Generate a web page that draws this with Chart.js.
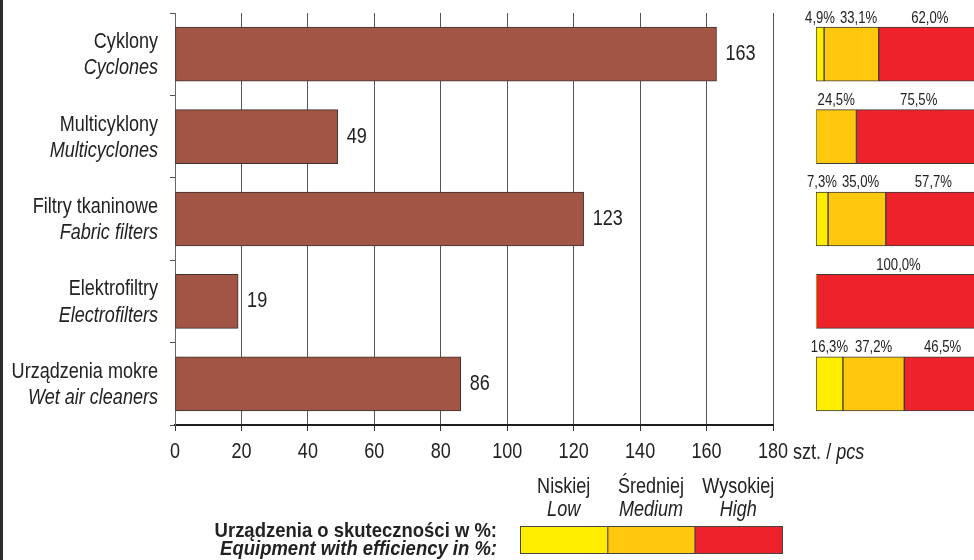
<!DOCTYPE html>
<html>
<head>
<meta charset="utf-8">
<script src="https://cdn.jsdelivr.net/npm/chart.js@4.4.1/dist/chart.umd.min.js"></script>
<style>
html, body { margin: 0; padding: 0; background: #fff; overflow: hidden; }
#wrap { position: relative; width: 974px; height: 560px; overflow: hidden; }
#share, #main { position: absolute; left: 0; top: 0; }
#edge { position: absolute; left: 0; top: 0; width: 3px; height: 560px; background: #2b2b2b; }
</style>
</head>
<body>
<div id="wrap">
  <canvas id="share" width="1000" height="560"></canvas>
  <canvas id="main" width="974" height="560"></canvas>
  <div id="edge"></div>
</div>
<script>
// Data
const categories = ["Cyklony", "Multicyklony", "Filtry tkaninowe", "Elektrofiltry", "Urządzenia mokre"];
const categoriesEn = ["Cyclones", "Multicyclones", "Fabric filters", "Electrofilters", "Wet air cleaners"];
const counts = [163, 49, 123, 19, 86];
const xTicks = [0, 20, 40, 60, 80, 100, 120, 140, 160, 180];

// share of equipment by efficiency, %
const lowShare = [4.9, 0, 7.3, 0, 16.3];
const mediumShare = [33.1, 24.5, 35.0, 0, 37.2];
const highShare = [62.0, 75.5, 57.7, 100.0, 46.5];
const levelNames = ["Niskiej", "Średniej", "Wysokiej"];
const levelNamesEn = ["Low", "Medium", "High"];
const levelColors = ["#ffed00", "#fec80e", "#ee222b"];

// no narrow font installed, so squeeze Liberation Sans by hand
const SANS = "'Liberation Sans', Arial, sans-serif";
const SQUEEZE = 0.82;
const TEXT = "#222";

function say(ctx, s, x, y, font, align, sx) {
  ctx.save();
  ctx.font = font;
  ctx.textAlign = align;
  ctx.textBaseline = "middle";
  ctx.translate(x, y);
  ctx.scale(sx || SQUEEZE, 1);
  ctx.fillText(s, 0, 0);
  ctx.restore();
}

function width(ctx, s, font, sx) {
  ctx.save();
  ctx.font = font;
  const w = ctx.measureText(s).width * (sx || SQUEEZE);
  ctx.restore();
  return w;
}

// labels, units and legend for the count chart
const countLabels = {
  id: "countLabels",
  afterDraw(chart) {
    const ctx = chart.ctx;
    const y = chart.scales.y;
    const x = chart.scales.x;
    ctx.save();
    ctx.fillStyle = TEXT;
    const reg = "22px " + SANS, ita = "italic 22px " + SANS;

    categories.forEach((c, i) => {
      const py = y.getPixelForValue(i);
      say(ctx, c, 158, py - 12, reg, "right");
      say(ctx, categoriesEn[i], 158, py + 14, ita, "right");
    });

    chart.getDatasetMeta(0).data.forEach((bar, i) => {
      say(ctx, String(counts[i]), bar.x + 9, bar.y, reg, "left");
    });

    xTicks.forEach(v => {
      say(ctx, String(v), x.getPixelForValue(v), 452, reg, "center");
    });

    // unit after the last tick
    const last = xTicks[xTicks.length - 1];
    let ux = x.getPixelForValue(last) + width(ctx, String(last), reg) / 2 + 5;
    say(ctx, "szt. / ", ux, 453, reg, "left");
    ux += width(ctx, "szt. / ", reg);
    say(ctx, "pcs", ux, 453, ita, "left");

    // legend
    say(ctx, "Urządzenia o skuteczności w %:", 497, 531, "bold 21px " + SANS, "right", 0.88);
    say(ctx, "Equipment with efficiency in %:", 497, 549, "italic bold 21px " + SANS, "right", 0.88);

    const bx = 520, bw = 262 / 3, by = 526, bh = 27;
    levelColors.forEach((col, i) => {
      ctx.fillStyle = col;
      ctx.fillRect(bx + i * bw, by, bw, bh);
      ctx.strokeStyle = "#444";
      ctx.lineWidth = 1;
      ctx.strokeRect(bx + i * bw + 0.5, by + 0.5, bw, bh);
      ctx.fillStyle = TEXT;
      say(ctx, levelNames[i], bx + (i + 0.5) * bw, 487, reg, "center");
      say(ctx, levelNamesEn[i], bx + (i + 0.5) * bw, 510, ita, "center");
    });
    ctx.restore();
  }
};

new Chart(document.getElementById("main"), {
  type: "bar",
  data: {
    labels: categories,
    datasets: [{
      data: counts,
      backgroundColor: "#a25544",
      borderColor: "#3d3330",
      borderWidth: 1,
      borderSkipped: false,
      barThickness: 54
    }]
  },
  options: {
    indexAxis: "y",
    responsive: false,
    animation: false,
    layout: { padding: { top: 13, right: 201, left: 0, bottom: 0 } },
    plugins: { legend: { display: false }, tooltip: { enabled: false } },
    scales: {
      x: {
        min: xTicks[0],
        max: xTicks[xTicks.length - 1],
        afterBuildTicks: s => { s.ticks = xTicks.map(v => ({ value: v })); },
        grid: { color: "#555", lineWidth: 1, tickLength: 6, tickColor: "#333" },
        border: { color: "#1e1e1e", width: 2 },
        ticks: { display: false },
        afterFit: s => { s.height = 135; }
      },
      y: {
        grid: { drawOnChartArea: false, offset: true, tickLength: 5, color: "#555" },
        border: { color: "#666", width: 1 },
        ticks: { display: false },
        afterFit: s => { s.width = 175; }
      }
    }
  },
  plugins: [countLabels]
});

// percent labels above the share bars
const shareLabels = {
  id: "shareLabels",
  afterDraw(chart) {
    const ctx = chart.ctx;
    ctx.save();
    ctx.fillStyle = TEXT;
    const font = "16px " + SANS;
    const sets = [lowShare, mediumShare, highShare];
    categories.forEach((c, i) => {
      let prevRight = -1e9;
      sets.forEach((vals, d) => {
        const v = vals[i];
        if (!v) return;
        const bar = chart.getDatasetMeta(d).data[i];
        const txt = v.toFixed(1).replace(".", ",") + "%";
        const w = width(ctx, txt, font);
        let cx = (bar.x + bar.base) / 2;
        cx = Math.max(cx, prevRight + 5 + w / 2);
        prevRight = cx + w / 2;
        say(ctx, txt, cx, bar.y - bar.height / 2 - 9, font, "center");
      });
    });
    ctx.restore();
  }
};

new Chart(document.getElementById("share"), {
  type: "bar",
  data: {
    labels: categories,
    datasets: [lowShare, mediumShare, highShare].map((vals, d) => ({
      label: levelNamesEn[d],
      data: vals,
      backgroundColor: levelColors[d],
      borderColor: "#3a3a3a",
      borderWidth: c => (c.raw ? 1 : 0),
      borderSkipped: false,
      barThickness: 54
    }))
  },
  options: {
    indexAxis: "y",
    responsive: false,
    animation: false,
    layout: { padding: { top: 13, right: 19, left: 816, bottom: 135 } },
    plugins: { legend: { display: false }, tooltip: { enabled: false } },
    scales: {
      x: { stacked: true, min: 0, max: 100, display: false },
      y: { stacked: true, display: false }
    }
  },
  plugins: [shareLabels]
});
</script>
</body>
</html>
